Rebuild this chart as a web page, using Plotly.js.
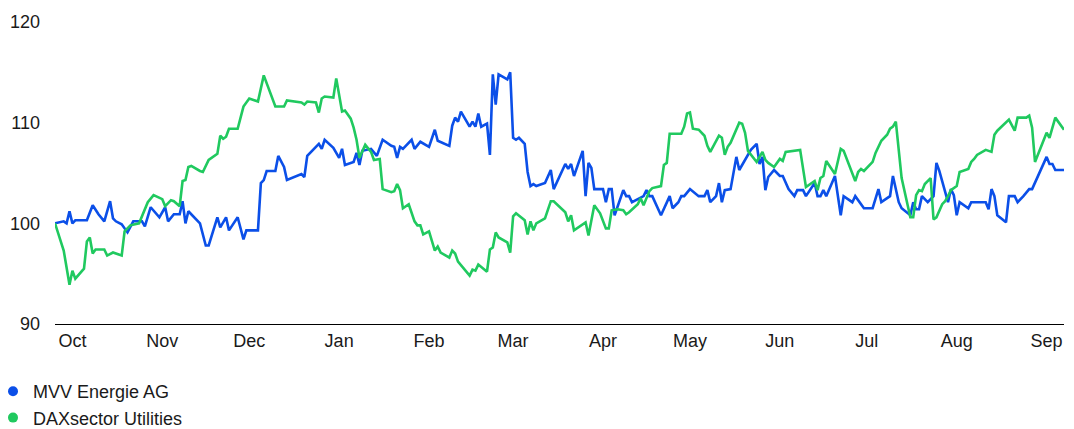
<!DOCTYPE html>
<html>
<head>
<meta charset="utf-8">
<script src="https://cdn.plot.ly/plotly-3.0.1.min.js"></script>
<style>
  html, body { margin: 0; padding: 0; background: #ffffff; }
  #chart { width: 1074px; height: 429px; }
</style>
</head>
<body>
<div id="chart"></div>
<script>
// Indexed performance (start = 100)
const mvvDates = [
  '2023-09-25','2023-09-28','2023-09-29','2023-09-30','2023-10-01','2023-10-02','2023-10-06','2023-10-08','2023-10-10','2023-10-12',
  '2023-10-14','2023-10-15','2023-10-16','2023-10-18','2023-10-20','2023-10-22','2023-10-25','2023-10-26','2023-10-28','2023-10-31',
  '2023-11-02','2023-11-03','2023-11-05','2023-11-07','2023-11-08','2023-11-09','2023-11-10','2023-11-14','2023-11-16','2023-11-17',
  '2023-11-20','2023-11-21','2023-11-23','2023-11-24','2023-11-27','2023-11-29','2023-11-30','2023-12-04','2023-12-05','2023-12-06',
  '2023-12-07','2023-12-10','2023-12-11','2023-12-13','2023-12-14','2023-12-19','2023-12-20','2023-12-21','2023-12-25','2023-12-26',
  '2023-12-27','2023-12-30','2024-01-01','2024-01-02','2024-01-03','2024-01-06','2024-01-07','2024-01-08','2024-01-09','2024-01-12',
  '2024-01-14','2024-01-16','2024-01-19','2024-01-20','2024-01-21','2024-01-22','2024-01-23','2024-01-26','2024-01-27','2024-01-29',
  '2024-02-01','2024-02-03','2024-02-04','2024-02-08','2024-02-09','2024-02-10','2024-02-11','2024-02-12','2024-02-15','2024-02-16',
  '2024-02-17','2024-02-18','2024-02-19','2024-02-21','2024-02-22','2024-02-23','2024-02-24','2024-02-25','2024-02-28','2024-02-29',
  '2024-03-01','2024-03-02','2024-03-03','2024-03-05','2024-03-06','2024-03-07','2024-03-08','2024-03-09','2024-03-12','2024-03-14',
  '2024-03-15','2024-03-19','2024-03-20','2024-03-21','2024-03-22','2024-03-25','2024-03-26','2024-03-27','2024-03-28','2024-03-29',
  '2024-04-01','2024-04-02','2024-04-03','2024-04-04','2024-04-05','2024-04-08','2024-04-09','2024-04-10','2024-04-11','2024-04-15',
  '2024-04-16','2024-04-17','2024-04-18','2024-04-21','2024-04-24','2024-04-25','2024-04-27','2024-04-28','2024-04-29','2024-05-01',
  '2024-05-04','2024-05-06','2024-05-07','2024-05-08','2024-05-10','2024-05-11','2024-05-12','2024-05-13','2024-05-15','2024-05-17',
  '2024-05-18','2024-05-22','2024-05-24','2024-05-25','2024-05-26','2024-05-27','2024-05-28','2024-05-30','2024-06-01','2024-06-02',
  '2024-06-04','2024-06-06','2024-06-07','2024-06-09','2024-06-10','2024-06-13','2024-06-14','2024-06-15','2024-06-16','2024-06-17',
  '2024-06-20','2024-06-22','2024-06-23','2024-06-26','2024-06-27','2024-06-30','2024-07-03','2024-07-05','2024-07-06','2024-07-09',
  '2024-07-10','2024-07-12','2024-07-13','2024-07-16','2024-07-17','2024-07-18','2024-07-19','2024-07-20','2024-07-22','2024-07-24',
  '2024-07-25','2024-07-26','2024-07-29','2024-07-30','2024-07-31','2024-08-01','2024-08-02','2024-08-05','2024-08-06','2024-08-11',
  '2024-08-12','2024-08-13','2024-08-14','2024-08-15','2024-08-18','2024-08-19','2024-08-21','2024-08-22','2024-08-24','2024-08-26',
  '2024-08-27','2024-09-01','2024-09-02','2024-09-03','2024-09-04','2024-09-07'
];
const mvvValues = [
  100.0,100.2,100.0,101.2,100.0,100.3,100.3,101.8,100.9,100.2,
  102.2,100.5,100.2,99.9,99.1,100.2,100.2,99.7,101.6,100.6,
  101.6,100.2,100.9,100.9,102.2,100.0,101.2,100.0,97.8,97.8,
  100.6,99.6,100.6,99.3,100.6,98.4,99.3,99.3,104.0,104.3,
  105.2,105.2,106.7,105.6,104.3,104.9,104.6,106.7,107.9,107.4,
  108.3,107.5,106.5,107.4,105.8,106.1,107.0,105.8,107.2,107.4,
  106.7,108.3,107.7,107.6,106.5,107.6,107.4,108.3,107.4,108.1,
  107.6,109.3,108.2,107.7,109.7,110.5,110.1,111.1,109.6,110.1,
  109.6,110.9,109.6,109.9,106.8,114.8,111.8,114.8,114.3,115.0,
  108.5,108.3,108.5,107.9,105.1,103.7,103.9,103.7,104.0,105.3,
  103.4,105.9,105.4,105.9,104.7,107.2,102.7,106.0,105.5,103.4,
  103.4,102.1,103.4,103.4,100.8,103.3,102.7,102.7,102.1,102.7,
  103.3,102.7,102.7,100.8,102.7,101.5,102.1,102.7,102.7,103.4,
  102.7,102.7,103.3,102.1,102.7,104.0,102.1,103.3,103.4,106.6,
  105.3,107.3,107.9,105.9,106.6,103.3,104.6,105.3,104.7,104.7,
  103.4,102.7,103.3,103.3,102.7,104.0,102.7,102.7,103.3,102.7,
  104.7,100.8,102.7,102.1,102.7,101.5,101.5,103.4,102.1,102.7,
  104.7,102.1,101.5,100.8,102.1,101.4,101.4,102.7,102.1,102.7,
  106.0,105.2,102.1,103.4,102.8,100.8,102.1,101.5,102.1,102.1,
  101.4,103.4,102.7,100.8,100.1,102.7,102.7,102.1,102.7,103.4,
  103.4,106.6,105.9,105.9,105.3,105.3
];

const daxDates = [
  '2023-09-25','2023-09-28','2023-09-30','2023-10-01','2023-10-02','2023-10-05','2023-10-06','2023-10-07','2023-10-08','2023-10-09',
  '2023-10-12','2023-10-13','2023-10-15','2023-10-16','2023-10-18','2023-10-19','2023-10-21','2023-10-24','2023-10-27','2023-10-29',
  '2023-11-01','2023-11-02','2023-11-04','2023-11-05','2023-11-07','2023-11-08','2023-11-09','2023-11-10','2023-11-11','2023-11-14',
  '2023-11-15','2023-11-17','2023-11-20','2023-11-21','2023-11-22','2023-11-23','2023-11-24','2023-11-27','2023-11-29','2023-12-01',
  '2023-12-04','2023-12-06','2023-12-10','2023-12-13','2023-12-14','2023-12-19','2023-12-20','2023-12-21','2023-12-24','2023-12-25',
  '2023-12-26','2023-12-27','2023-12-30','2023-12-31','2024-01-02','2024-01-03','2024-01-04','2024-01-05','2024-01-06','2024-01-07',
  '2024-01-08','2024-01-10','2024-01-12','2024-01-13','2024-01-15','2024-01-16','2024-01-19','2024-01-20','2024-01-21','2024-01-22',
  '2024-01-23','2024-01-25','2024-01-27','2024-01-28','2024-01-29','2024-01-30','2024-02-01','2024-02-03','2024-02-04','2024-02-05',
  '2024-02-08','2024-02-09','2024-02-10','2024-02-11','2024-02-15','2024-02-16','2024-02-17','2024-02-18','2024-02-21','2024-02-22',
  '2024-02-23','2024-02-24','2024-02-25','2024-02-28','2024-02-29','2024-03-01','2024-03-02','2024-03-05','2024-03-06','2024-03-07',
  '2024-03-08','2024-03-09','2024-03-12','2024-03-14','2024-03-15','2024-03-19','2024-03-20','2024-03-21','2024-03-22','2024-03-26',
  '2024-03-27','2024-03-29','2024-03-31','2024-04-02','2024-04-03','2024-04-04','2024-04-06','2024-04-08','2024-04-09','2024-04-10',
  '2024-04-13','2024-04-14','2024-04-15','2024-04-17','2024-04-18','2024-04-21','2024-04-22','2024-04-23','2024-04-24','2024-04-28',
  '2024-04-29','2024-04-30','2024-05-01','2024-05-02','2024-05-04','2024-05-06','2024-05-07','2024-05-08','2024-05-11','2024-05-12',
  '2024-05-13','2024-05-14','2024-05-15','2024-05-18','2024-05-19','2024-05-20','2024-05-21','2024-05-24','2024-05-26','2024-05-27',
  '2024-05-28','2024-05-30','2024-06-01','2024-06-02','2024-06-03','2024-06-07','2024-06-08','2024-06-10','2024-06-13','2024-06-14',
  '2024-06-15','2024-06-16','2024-06-17','2024-06-20','2024-06-22','2024-06-23','2024-06-27','2024-06-28','2024-06-29','2024-06-30',
  '2024-07-03','2024-07-04','2024-07-06','2024-07-08','2024-07-09','2024-07-10','2024-07-11','2024-07-13','2024-07-15','2024-07-16',
  '2024-07-17','2024-07-18','2024-07-19','2024-07-20','2024-07-21','2024-07-22','2024-07-23','2024-07-24','2024-07-25','2024-07-27',
  '2024-07-28','2024-07-29','2024-07-30','2024-08-01','2024-08-02','2024-08-05','2024-08-06','2024-08-07','2024-08-08','2024-08-11',
  '2024-08-13','2024-08-14','2024-08-15','2024-08-19','2024-08-21','2024-08-22','2024-08-25','2024-08-26','2024-08-27','2024-08-28',
  '2024-09-01','2024-09-02','2024-09-04','2024-09-07'
];
const daxValues = [
  100.0,97.3,93.9,95.3,94.5,95.5,98.2,98.6,97.0,97.4,
  97.4,96.8,97.1,97.0,96.8,99.2,99.8,100.0,102.1,102.8,
  102.4,101.7,102.3,102.2,101.7,104.2,104.3,105.6,105.7,105.2,
  105.1,106.3,106.9,108.7,108.4,108.6,109.4,109.4,111.6,112.4,
  112.1,114.7,111.6,111.6,112.2,112.0,111.8,112.1,112.0,111.0,
  112.4,112.6,112.5,114.4,111.1,111.2,110.8,110.4,109.5,108.3,
  106.5,107.8,107.1,106.3,106.4,103.4,103.1,103.2,103.9,103.3,
  101.5,101.9,100.2,99.8,99.8,98.9,99.2,97.3,97.7,97.1,
  96.6,97.3,97.0,96.2,94.8,95.4,95.3,95.9,95.2,97.4,
  97.6,99.1,98.6,98.1,97.1,100.7,101.0,100.3,98.9,100.2,
  99.3,100.0,100.5,102.2,102.2,101.1,100.2,100.8,99.3,100.1,
  98.8,101.8,101.0,99.5,99.5,101.3,101.4,101.3,100.9,101.1,
  101.9,102.5,101.8,103.2,103.5,103.7,105.8,106.0,108.9,108.9,
  109.6,110.9,111.0,109.4,109.3,108.7,107.7,107.1,108.7,108.5,
  106.8,107.6,108.0,110.0,109.9,109.0,107.2,106.1,107.1,106.3,
  106.0,105.6,106.4,106.2,107.1,107.2,107.3,103.6,104.2,103.3,
  104.5,104.7,106.2,104.9,107.4,107.2,104.2,105.1,105.4,105.2,
  106.1,107.0,108.2,108.8,109.4,109.6,110.1,104.5,102.0,100.6,
  100.6,102.8,103.3,103.2,103.9,104.2,104.5,100.4,100.6,101.9,
  102.2,102.7,103.3,103.7,105.1,105.4,106.1,106.4,106.8,107.3,
  107.1,108.8,109.2,110.3,109.2,110.5,110.5,110.7,109.5,106.1,
  109.0,108.5,110.5,109.3
];

const seriesNames = ['MVV Energie AG', 'DAXsector Utilities'];
const seriesColors = ['#0B4FE8', '#20C95F'];

const monthTicks = ['2023-10-01','2023-11-01','2023-12-01','2024-01-01','2024-02-01','2024-03-01',
                    '2024-04-01','2024-05-01','2024-06-01','2024-07-01','2024-08-01','2024-09-01'];
const monthLabels = ['Oct','Nov','Dec','Jan','Feb','Mar','Apr','May','Jun','Jul','Aug','Sep'];
const yTicks = [90, 100, 110, 120];

const font = 'Liberation Sans, Arial, sans-serif';
const textColor = '#1a1a1a';

const traces = [
  { x: mvvDates, y: mvvValues, type: 'scatter', mode: 'lines', showlegend: false,
    line: { color: seriesColors[0], width: 2.6 }, hoverinfo: 'skip' },
  { x: daxDates, y: daxValues, type: 'scatter', mode: 'lines', showlegend: false,
    line: { color: seriesColors[1], width: 2.6 }, hoverinfo: 'skip' },
  // legend entries shown as round dots
  { x: [null], y: [null], type: 'scatter', mode: 'markers', name: seriesNames[0],
    marker: { color: seriesColors[0], size: 10 } },
  { x: [null], y: [null], type: 'scatter', mode: 'markers', name: seriesNames[1],
    marker: { color: seriesColors[1], size: 10 } }
];

const layout = {
  width: 1074, height: 429,
  margin: { l: 55, r: 10, t: 22, b: 105, pad: 0, autoexpand: false },
  paper_bgcolor: '#ffffff', plot_bgcolor: '#ffffff',
  font: { family: font, size: 18, color: textColor },
  xaxis: {
    type: 'date',
    range: ['2023-09-25', '2024-09-07'],
    tickmode: 'array', tickvals: monthTicks, ticktext: monthLabels,
    showgrid: false, zeroline: false,
    showline: true, linecolor: '#000000', linewidth: 1.2,
    ticks: '', tickfont: { family: font, size: 18, color: textColor },
    automargin: false, fixedrange: true
  },
  yaxis: {
    range: [90, 120],
    tickmode: 'array', tickvals: yTicks,
    showgrid: false, zeroline: false, showline: false,
    ticks: '', ticklabelstandoff: 14,
    tickfont: { family: font, size: 18, color: textColor },
    automargin: false, fixedrange: true
  },
  showlegend: true,
  legend: {
    orientation: 'v',
    xref: 'paper', yref: 'container',
    x: -62 / 1009, xanchor: 'left',
    y: 1 - 373 / 429, yanchor: 'top',
    font: { family: font, size: 18, color: textColor },
    bgcolor: 'rgba(0,0,0,0)', borderwidth: 0,
    itemwidth: 30, tracegroupgap: 0
  }
};

Plotly.newPlot('chart', traces, layout, { displayModeBar: false, staticPlot: true });
</script>
</body>
</html>
